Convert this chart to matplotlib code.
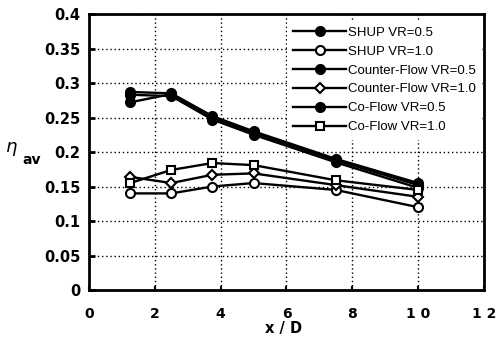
import matplotlib
matplotlib.use("Agg")
import matplotlib.pyplot as plt

x = [1.25, 2.5, 3.75, 5.0, 7.5, 10.0]

shup_05 = [0.272, 0.284, 0.250, 0.228, 0.188, 0.152]
shup_10 = [0.140, 0.140, 0.150, 0.155, 0.145, 0.120]
counter_05 = [0.287, 0.285, 0.252, 0.230, 0.190, 0.155]
counter_10 = [0.164, 0.155, 0.167, 0.169, 0.152, 0.135]
co_05 = [0.283, 0.281, 0.247, 0.225, 0.185, 0.148]
co_10 = [0.155, 0.174, 0.184, 0.181, 0.159, 0.145]

labels = ["SHUP VR=0.5", "SHUP VR=1.0", "Counter-Flow VR=0.5",
          "Counter-Flow VR=1.0", "Co-Flow VR=0.5", "Co-Flow VR=1.0"]

xticks = [0, 2, 4, 6, 8, 10, 12]
xticklabels = ["0", "2", "4", "6", "8", "1 0", "1 2"]
yticks = [0, 0.05, 0.1, 0.15, 0.2, 0.25, 0.3, 0.35, 0.4]
yticklabels = ["0", "0.05", "0.1", "0.15", "0.2", "0.25", "0.3", "0.35", "0.4"]

W, H = 497, 338
fig = plt.figure(figsize=(W / 100, H / 100), dpi=100)
ax = fig.add_axes([89 / W, 1 - 290 / H, (484 - 89) / W, (290 - 14) / H])

series = [
    (shup_05, 'o', 'black', 6.5),
    (shup_10, 'o', 'white', 6.5),
    (counter_05, 'o', 'black', 6.5),
    (counter_10, 'D', 'white', 5),
    (co_05, 'o', 'black', 6.5),
    (co_10, 's', 'white', 5.5),
]
for (ys, m, fc, ms), lab in zip(series, labels):
    ax.plot(x, ys, color='black', lw=1.7, marker=m, ms=ms,
            mfc=fc, mec='black', mew=1.5, label=lab)

ax.set_xlim(0, 12)
ax.set_ylim(0, 0.4)
ax.set_xticks(xticks)
ax.set_xticklabels(xticklabels, fontsize=10, fontweight='bold', family='DejaVu Sans')
ax.set_yticks(yticks)
ax.set_yticklabels(yticklabels, fontsize=10.5, fontweight='bold', family='DejaVu Sans')
ax.tick_params(axis='x', direction='in', length=3, width=1.5, pad=12)
ax.tick_params(axis='y', direction='in', length=4, width=2, pad=6)
ax.grid(True, color='black', linestyle=(0, (1, 2)), lw=1.0)
for s in ax.spines.values():
    s.set_linewidth(2)

fig.text(284 / W, 1 - 329 / H, "x / D", fontsize=10.5, fontweight='bold',
         family='DejaVu Sans', ha='center', va='center')
fig.text(11 / W, 1 - 149 / H, r"$\eta$", fontsize=13, ha='center', va='center')
fig.text(32 / W, 1 - 160 / H, "av", fontsize=10, fontweight='bold',
         family='DejaVu Sans', ha='center', va='center')

leg = ax.legend(loc='upper right', bbox_to_anchor=(1.0, 0.985),
                prop={'family': 'Liberation Sans', 'size': 9.5},
                frameon=True, fancybox=False, edgecolor='white', framealpha=1,
                handlelength=4.0, handletextpad=0.1, labelspacing=0.5,
                borderaxespad=0.15, borderpad=0.5)
leg.get_frame().set_linewidth(0)

fig.savefig("out.png", dpi=100)
